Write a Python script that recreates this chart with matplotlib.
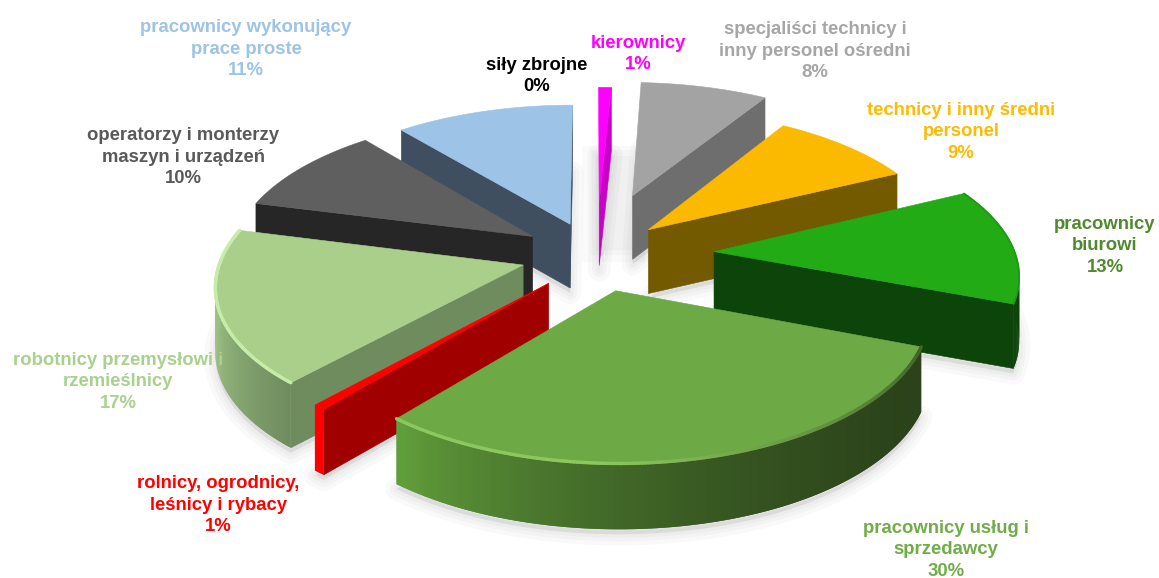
import numpy as np
import matplotlib
matplotlib.use("Agg")
import matplotlib.pyplot as plt
from matplotlib.colors import to_rgb
from matplotlib.collections import LineCollection

categories = ["kierownicy", "specjaliści technicy i\ninny personel ośredni", "technicy i inny średni\npersonel",
              "pracownicy\nbiurowi", "pracownicy usług i\nsprzedawcy", "rolnicy, ogrodnicy,\nleśnicy i rybacy",
              "robotnicy przemysłowi i\nrzemieślnicy", "operatorzy i monterzy\nmaszyn i urządzeń",
              "pracownicy wykonujący\nprace proste", "siły zbrojne"]
values = [0.8, 8, 9, 13, 30.3, 0.6, 17.3, 10, 11, 0]
explode = [0.36, 0.43, 0.239, 0.403, 0.29, 0.272, 0.253, 0.226, 0.204, 0.0]
explode_turn = [2, 1.5, 4, 4.2, 0, -9.2, -8, -6.7, -2.7, 0]
top_colors = ["#FF00FF", "#A3A3A3", "#FBB900", "#23AB16", "#6DAA45", "#FF0000", "#A9CF8A", "#5F5F5F", "#9DC3E6", "#000000"]
side_colors = ["#C800C8", "#6E6E6E", "#735A00", "#0D4409", "#2B421A", "#A00000", "#6F8C5F", "#262626", "#3F4F60", "#000000"]
rim_light = ["#FF00FF", "#7A7A7A", "#8A6C00", "#0D4409", "#62A03C", "#FF0000", "#9CC082", "#262626", "#3F4F60", "#000000"]
bevel_colors = [None, None, None, "#1E9A13", "#8CC85F", None, "#C5EDA8", None, None, None]
label_colors = ["#FF00FF", "#A6A6A6", "#FFBB00", "#4F8A2E", "#70AD47", "#FF0000", "#A9D18E", "#595959", "#9DC3E6", "#000000"]
label_pos = [(638, 54), (815, 51), (961, 132), (1105, 246), (946, 550), (218, 505), (118, 382), (183, 157), (246, 49), (537, 76)]
draw_order = [0, 8, 1, 7, 2, 3, 6, 5, 4]

CX, CY, A, B, P, H = 593.0, 250.0, 300.0, 140.0, 0.125, 64.0

plt.rcParams['font.family'] = ['Liberation Sans', 'DejaVu Sans']
fig = plt.figure(figsize=(11.59, 5.78), dpi=100)
ax = fig.add_axes([0, 0, 1, 1])
ax.set_xlim(0, 1159)
ax.set_ylim(578, 0)
ax.axis('off')


def proj(X, Y, z=0.0):
    s = 1.0 / (1.0 + P * np.asarray(Y))
    return CX + A * np.asarray(X) * s, CY - B * np.asarray(Y) * s + z * (s * 0.15 + 0.85) * H


def mix(c1, c2, t):
    a, b = np.array(to_rgb(c1)), np.array(to_rgb(c2))
    return tuple(a + (b - a) * t)


# soft central shadow
for x0, x1, y0, y1 in [(582, 645, 146, 262), (590, 640, 150, 255), (596, 634, 156, 250)]:
    ax.fill([x0, x1, x1, x0], [y0, y0, y1, y1], color='k', alpha=0.018, lw=0, zorder=1)

starts = np.cumsum([0] + values[:-1]) * 3.6
for i in draw_order:
    a0, a1 = starts[i], starts[i] + values[i] * 3.6
    mid = np.radians((a0 + a1) / 2 + explode_turn[i])
    ax0, ay0 = explode[i] * np.sin(mid), explode[i] * np.cos(mid)
    th = np.radians(np.linspace(a0, a1, max(int(a1 - a0) * 2, 4)))
    rx, ry = ax0 + np.sin(th), ay0 + np.cos(th)

    # ground shadow
    xb, yb = proj(np.r_[ax0, rx], np.r_[ay0, ry], 1.0)
    for lw in (16, 10, 5):
        ax.fill(xb, yb + 5, fc='k', ec='k', alpha=0.022, lw=lw, zorder=1, joinstyle='round')

    z = 2 + draw_order.index(i) * 2
    # cut faces
    faces = []
    if np.sin(np.radians(a0)) < 0:
        faces.append(a0)
    if np.sin(np.radians(a1)) > 0:
        faces.append(a1)
    for ang in faces:
        r = np.radians(ang)
        ex, ey = ax0 + np.sin(r), ay0 + np.cos(r)
        x1, y1 = proj(np.array([ax0, ex]), np.array([ay0, ey]), 0.0)
        x2, y2 = proj(np.array([ex, ax0]), np.array([ey, ay0]), 1.0)
        ax.fill(np.r_[x1, x2], np.r_[y1, y2], fc=side_colors[i], ec=side_colors[i], lw=0.4, zorder=z)
    # outer rim as gradient strips, each overlapping the next to hide seams
    vis = np.cos(th) < 0.02
    for k in range(len(th) - 1):
        if not (vis[k] and vis[k + 1]):
            continue
        kk = min(k + 3, len(th))
        xa, ya = proj(rx[k:kk], ry[k:kk], 0.0)
        xc, yc = proj(rx[k:kk][::-1], ry[k:kk][::-1], 1.0)
        t = (np.degrees(th[k]) - a0) / (a1 - a0)
        if i == 5:
            col = to_rgb(rim_light[i])
        elif i == 6:
            col = mix(side_colors[i], rim_light[i], min(1, t * 1.8))
        else:
            col = mix(side_colors[i], rim_light[i], t ** 2)
        ax.fill(np.r_[xa, xc], np.r_[ya, yc], fc=col, lw=0, zorder=z)
    # top surface
    xt, yt = proj(np.r_[ax0, rx], np.r_[ay0, ry], 0.0)
    ax.fill(xt, yt, fc=top_colors[i], ec=top_colors[i], lw=0.4, zorder=z + 1)
    # bevel along the rim
    if bevel_colors[i]:
        xr, yr = proj(rx, ry, 0.0)
        pts = np.column_stack([xr, yr])
        segs = np.stack([pts[:-1], pts[1:]], axis=1)
        ts = np.linspace(0, 1, len(segs))
        if i == 4:
            cols = [mix("#3F6426", bevel_colors[i], min(1, v * 1.5)) for v in ts]
            lw_b = 2.4
        elif i == 3:
            cols = [bevel_colors[i]] * len(segs)
            lw_b = 1.2
        else:
            cols = [bevel_colors[i]] * len(segs)
            lw_b = 2.4
        ax.add_collection(LineCollection(segs, colors=cols, linewidths=lw_b, zorder=z + 1, capstyle='round'))

for i, name in enumerate(categories):
    ax.text(label_pos[i][0], label_pos[i][1], f"{name}\n{round(values[i])}%", color=label_colors[i],
            ha='center', va='center', fontsize=13.35, fontweight='bold', linespacing=1.36, zorder=100,
            clip_on=False)

fig.savefig("out.png", dpi=100)
